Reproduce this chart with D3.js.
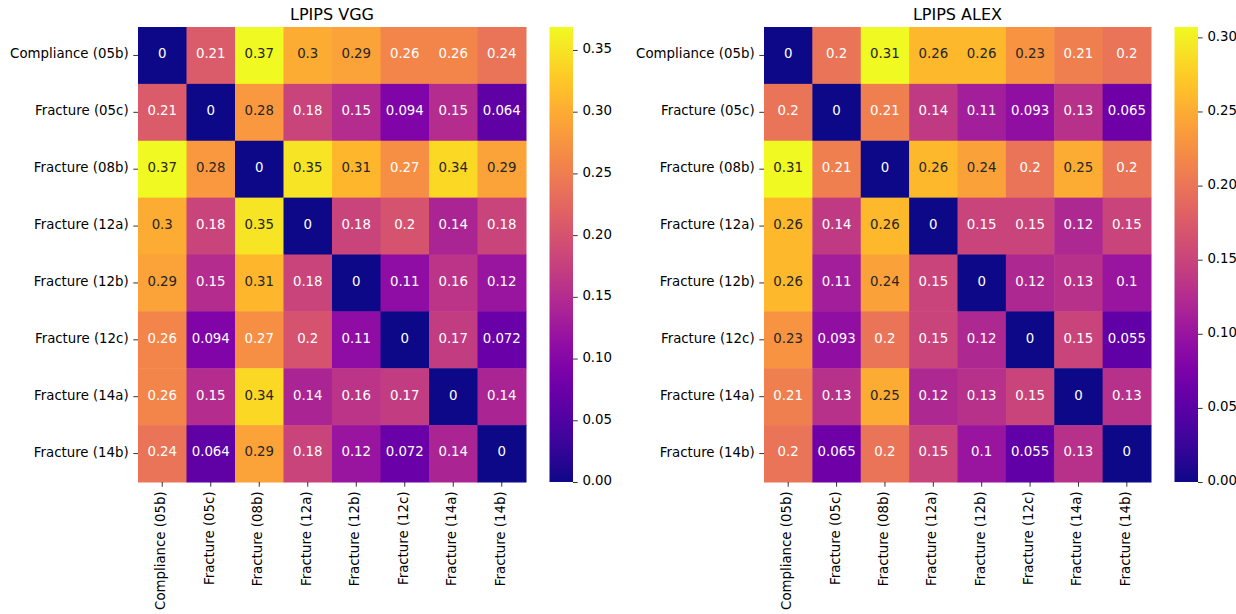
<!DOCTYPE html>
<html>
<head>
<meta charset="utf-8">
<script src="https://cdn.jsdelivr.net/npm/d3@7"></script>
<style>
  body { margin: 0; background: #fff; }
  svg { font-family: "DejaVu Sans", sans-serif; }
</style>
</head>
<body>
<svg id="chart" width="1236" height="614"></svg>
<script>
const labels = ["Compliance (05b)", "Fracture (05c)", "Fracture (08b)", "Fracture (12a)",
                "Fracture (12b)", "Fracture (12c)", "Fracture (14a)", "Fracture (14b)"];

const vggValues = [
  [0, 0.21, 0.3686, 0.3, 0.29, 0.26, 0.26, 0.24],
  [0.21, 0, 0.28, 0.18, 0.15, 0.094, 0.15, 0.064],
  [0.3686, 0.28, 0, 0.35, 0.31, 0.27, 0.34, 0.29],
  [0.3, 0.18, 0.35, 0, 0.18, 0.2, 0.14, 0.18],
  [0.29, 0.15, 0.31, 0.18, 0, 0.11, 0.16, 0.12],
  [0.26, 0.094, 0.27, 0.2, 0.11, 0, 0.17, 0.072],
  [0.26, 0.15, 0.34, 0.14, 0.16, 0.17, 0, 0.14],
  [0.24, 0.064, 0.29, 0.18, 0.12, 0.072, 0.14, 0]
];

const alexValues = [
  [0, 0.2, 0.307, 0.26, 0.26, 0.23, 0.21, 0.2],
  [0.2, 0, 0.21, 0.14, 0.11, 0.093, 0.13, 0.065],
  [0.307, 0.21, 0, 0.26, 0.24, 0.2, 0.25, 0.2],
  [0.26, 0.14, 0.26, 0, 0.15, 0.15, 0.12, 0.15],
  [0.26, 0.11, 0.24, 0.15, 0, 0.12, 0.13, 0.1],
  [0.23, 0.093, 0.2, 0.15, 0.12, 0, 0.15, 0.055],
  [0.21, 0.13, 0.25, 0.12, 0.13, 0.15, 0, 0.13],
  [0.2, 0.065, 0.2, 0.15, 0.1, 0.055, 0.13, 0]
];

const vggTicks = [0, 0.05, 0.10, 0.15, 0.20, 0.25, 0.30, 0.35];
const alexTicks = [0, 0.05, 0.10, 0.15, 0.20, 0.25, 0.30];

const svg = d3.select("#chart");
const fmt = d3.format(".2~g");

// same rule seaborn uses to pick the annotation colour
function luminance(c) {
  const rgb = d3.rgb(c);
  const lin = v => {
    v /= 255;
    return v <= 0.03928 ? v / 12.92 : Math.pow((v + 0.055) / 1.055, 2.4);
  };
  return 0.2126 * lin(rgb.r) + 0.7152 * lin(rgb.g) + 0.0722 * lin(rgb.b);
}

function drawHeatmap(opts) {
  const { values, title, ticks, left, width, cbLeft, id } = opts;
  const top = 27, height = 455;
  const vmax = d3.max(values.flat());

  const x = d3.scaleBand().domain(labels).range([left, left + width]);
  const y = d3.scaleBand().domain(labels).range([top, top + height]);
  const color = d3.scaleSequential(d3.interpolatePlasma).domain([0, vmax]);

  const cells = [];
  values.forEach((row, i) => row.forEach((v, j) => cells.push({ r: labels[i], c: labels[j], v })));

  const g = svg.append("g");

  g.selectAll("rect.cell")
    .data(cells)
    .join("rect")
    .attr("class", "cell")
    .attr("x", d => x(d.c))
    .attr("y", d => y(d.r))
    .attr("width", x.bandwidth() + 0.5)
    .attr("height", y.bandwidth() + 0.5)
    .attr("fill", d => color(d.v));

  g.selectAll("text.annot")
    .data(cells)
    .join("text")
    .attr("class", "annot")
    .attr("x", d => x(d.c) + x.bandwidth() / 2)
    .attr("y", d => y(d.r) + y.bandwidth() / 2)
    .attr("dy", "0.22em")
    .attr("text-anchor", "middle")
    .attr("font-size", "13.33px")
    .attr("fill", d => luminance(color(d.v)) > 0.408 ? "#262626" : "#ffffff")
    .text(d => fmt(d.v));

  // y axis
  g.append("g")
    .attr("transform", `translate(${left},0)`)
    .call(d3.axisLeft(y).tickSize(4.7).tickPadding(4.7))
    .call(a => a.select(".domain").remove())
    .call(a => a.selectAll("text").attr("font-size", "13.33px").attr("fill", "#000")
      .attr("font-family", "DejaVu Sans").attr("dy", "0.22em"))
    .call(a => a.selectAll("line").attr("stroke", "#000").attr("stroke-width", 0.8));

  // x axis
  g.append("g")
    .attr("transform", `translate(0,${top + height})`)
    .call(d3.axisBottom(x).tickSize(4.7).tickPadding(4.7))
    .call(a => a.select(".domain").remove())
    .call(a => a.selectAll("line").attr("stroke", "#000").attr("stroke-width", 0.8))
    .call(a => a.selectAll("text")
      .attr("font-size", "13.33px")
      .attr("fill", "#000")
      .attr("font-family", "DejaVu Sans")
      .attr("transform", "rotate(-90)")
      .attr("x", -9.4)
      .attr("y", 0)
      .attr("dy", "0.22em")
      .attr("text-anchor", "end"));

  // title
  g.append("text")
    .attr("x", left + width / 2)
    .attr("y", 20)
    .attr("text-anchor", "middle")
    .attr("font-size", "16px")
    .attr("fill", "#000")
    .text(title);

  // colorbar
  const cbWidth = 23.5;
  const cy = d3.scaleLinear().domain([0, vmax]).range([top + height, top]);
  const grad = svg.append("defs").append("linearGradient")
    .attr("id", id)
    .attr("x1", 0).attr("y1", 1).attr("x2", 0).attr("y2", 0);
  d3.range(0, 1.0001, 0.05).forEach(t => {
    grad.append("stop")
      .attr("offset", `${t * 100}%`)
      .attr("stop-color", d3.interpolatePlasma(t));
  });
  g.append("rect")
    .attr("x", cbLeft)
    .attr("y", top)
    .attr("width", cbWidth)
    .attr("height", height)
    .attr("fill", `url(#${id})`);

  g.append("g")
    .attr("transform", `translate(${cbLeft + cbWidth},0)`)
    .call(d3.axisRight(cy).tickValues(ticks).tickFormat(d3.format(".2f")).tickSize(4.7).tickPadding(4.7))
    .call(a => a.select(".domain").remove())
    .call(a => a.selectAll("line").attr("stroke", "#000").attr("stroke-width", 0.8))
    .call(a => a.selectAll("text").attr("font-size", "13.33px").attr("fill", "#000")
      .attr("font-family", "DejaVu Sans").attr("dy", "0.22em"));
}

drawHeatmap({ values: vggValues, title: "LPIPS VGG", ticks: vggTicks, left: 138, width: 388, cbLeft: 549.5, id: "grad-vgg" });
drawHeatmap({ values: alexValues, title: "LPIPS ALEX", ticks: alexTicks, left: 764, width: 387, cbLeft: 1174.5, id: "grad-alex" });
</script>
</body>
</html>
